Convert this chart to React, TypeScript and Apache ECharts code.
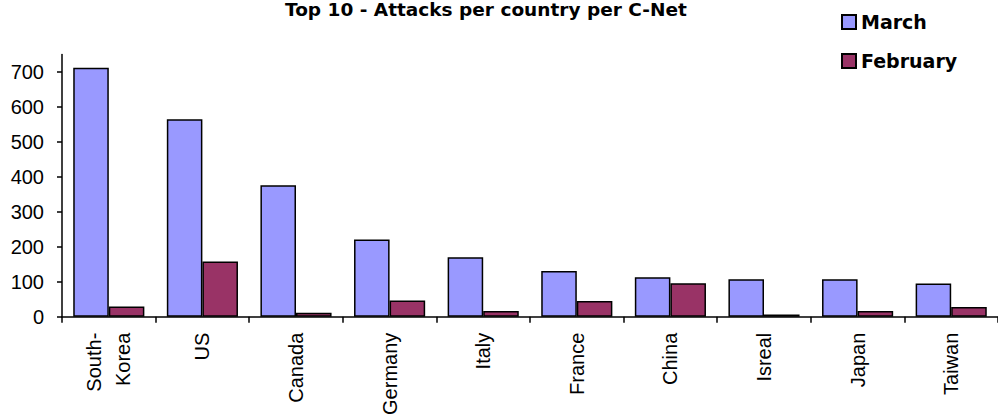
import React, { useEffect, useRef } from "react";
import * as echarts from "echarts";

const categories = ["South-\nKorea", "US", "Canada", "Germany", "Italy", "France", "China", "Isreal", "Japan", "Taiwan"];
const marchValues = [712, 565, 376, 221, 170, 131, 113, 107, 107, 95];
const februaryValues = [29, 158, 11, 46, 16, 45, 96, 6, 16, 28];
const yTickValues = [0, 100, 200, 300, 400, 500, 600, 700];
const titleText = "Top 10 - Attacks per country per C-Net";

export default function App() {
  const ref = useRef<HTMLDivElement>(null);
  useEffect(() => {
    if (!ref.current) return;
    const chart = echarts.init(ref.current, null, { renderer: "svg" });
    const barBorder = { borderColor: "#000000", borderWidth: 1.5 };
    chart.setOption({
      animation: false,
      backgroundColor: "#ffffff",
      title: {
        text: titleText,
        left: 285,
        top: 0,
        padding: 0,
        textStyle: { fontFamily: "DejaVu Sans", fontWeight: "bold", fontSize: 18.5, lineHeight: 18, color: "#000000" },
      },
      legend: {
        orient: "vertical",
        left: 841,
        top: 12.5,
        padding: 0,
        itemWidth: 14,
        itemHeight: 14,
        itemGap: 20,
        icon: "rect",
        textStyle: { fontFamily: "DejaVu Sans", fontWeight: "bold", fontSize: 19, color: "#000000" },
        data: ["March", "February"],
      },
      grid: { left: 62, top: 54.5, width: 938, bottom: 101.3, containLabel: false },
      xAxis: {
        type: "category",
        data: categories,
        axisLine: { show: true, lineStyle: { color: "#000000", width: 1.5 } },
        axisTick: { show: true, length: 6, lineStyle: { color: "#000000", width: 1.5 } },
        axisLabel: {
          rotate: 90,
          interval: 0,
          margin: 16,
          color: "#000000",
          fontFamily: "Liberation Sans, Arial, sans-serif",
          fontSize: 20,
          lineHeight: 29,
          align: "right",
        },
      },
      yAxis: {
        type: "value",
        min: 0,
        max: 750,
        interval: 50,
        splitLine: { show: false },
        axisLine: { show: true, lineStyle: { color: "#000000", width: 1.5 } },
        axisTick: { show: true, length: 5, lineStyle: { color: "#000000", width: 1.5 }, customValues: yTickValues },
        axisLabel: {
          margin: 18,
          color: "#000000",
          fontFamily: "Liberation Sans, Arial, sans-serif",
          fontSize: 20,
          customValues: yTickValues,
        },
      },
      series: [
        {
          name: "March",
          type: "bar",
          data: marchValues,
          barGap: "0%",
          barCategoryGap: "24%",
          itemStyle: { color: "#9999FF", ...barBorder },
        },
        {
          name: "February",
          type: "bar",
          data: februaryValues,
          barGap: "0%",
          barCategoryGap: "24%",
          itemStyle: { color: "#993366", ...barBorder },
        },
      ],
    });
    return () => chart.dispose();
  }, []);
  return <div ref={ref} style={{ position: "fixed", left: 0, top: 0, width: 998, height: 418 }} />;
}
